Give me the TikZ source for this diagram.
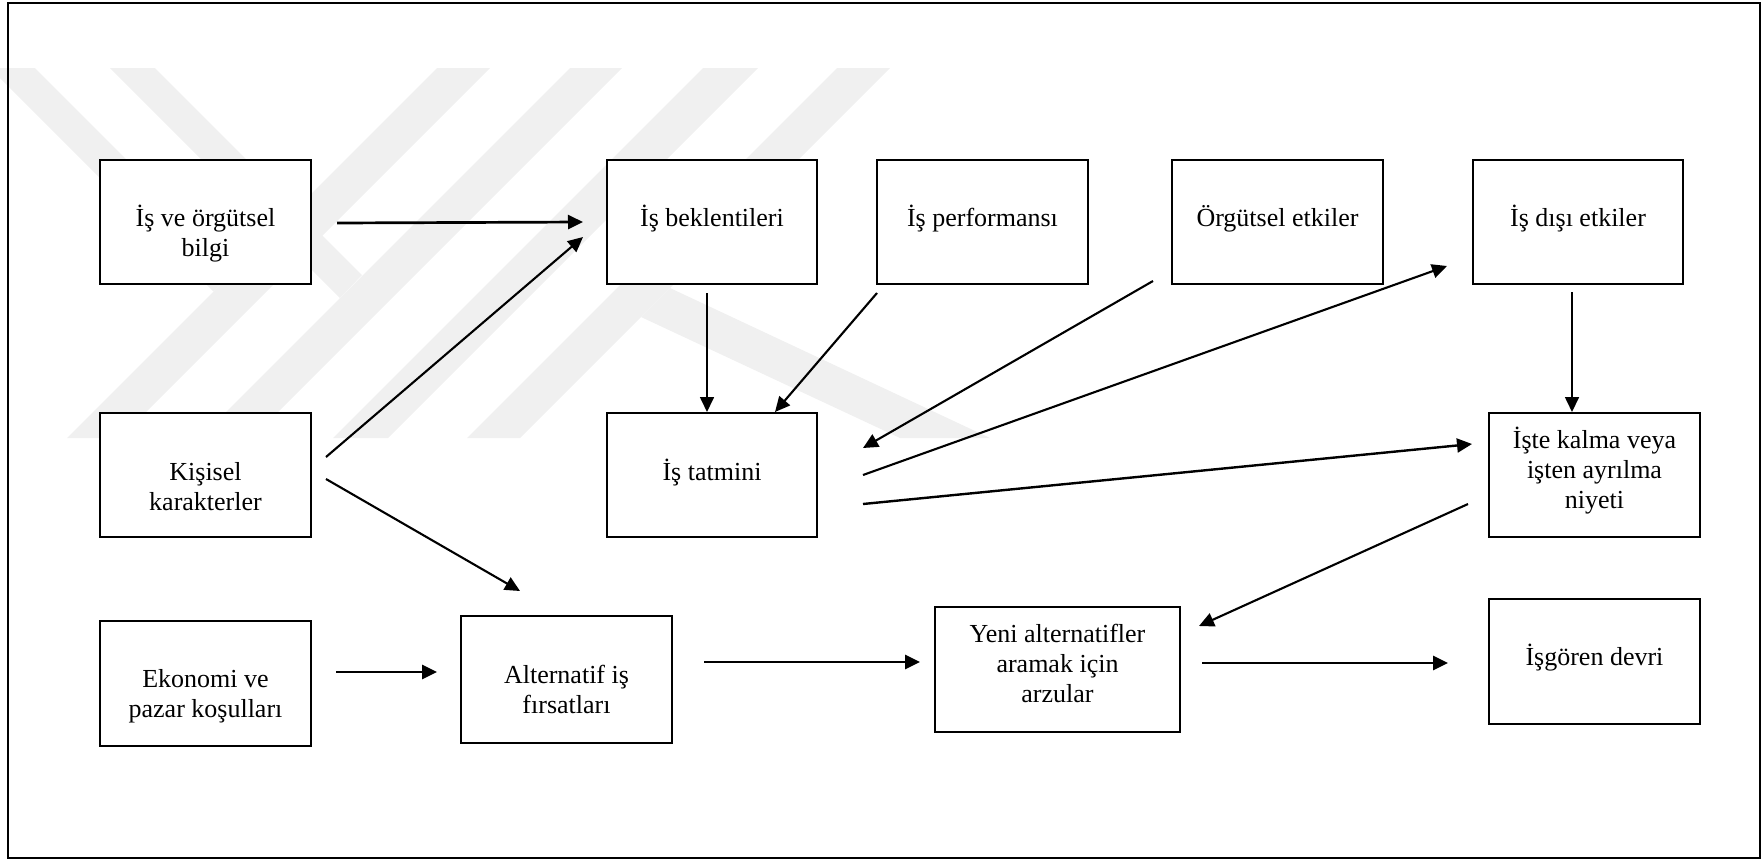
\documentclass[tikz,border=0pt]{standalone}
\usepackage{fontspec}
\setmainfont{Liberation Serif}
\usetikzlibrary{arrows.meta,calc}
% centred multi-line label whose reference point is the first baseline
\newcommand\mlines[1]{\begin{tabular}[t]{@{}c@{}}#1\end{tabular}}
\begin{document}
\begin{tikzpicture}[x=1pt,y=-1pt,
  wm/.style={fill=black!6},
  box/.style={draw, line width=1.7pt, fill=white, inner sep=0pt, outer sep=0pt},
  lbl/.style={anchor=base, inner sep=0pt, font=\fontsize{26}{30}\selectfont},
  arr/.style={-{Triangle[length=15pt,width=14pt]}, line width=2.1pt},
  arrthin/.style={arr, line width=1.7pt},
  arrthick/.style={arr, line width=2.7pt}]
\useasboundingbox (0,0) rectangle (1762,860);

% background stripes
\begin{scope}
  \clip (0,68) rectangle (1762,438);
  \fill[wm] (-10,68) -- (35,68) -- (236,269) -- (213.5,291.5) -- cycle;
  \fill[wm] (110,68) -- (155,68) -- (362,275) -- (340,298) -- cycle;
  \fill[wm] (437,68) -- (490,68) -- (120,438) -- (67,438) -- cycle;
  \fill[wm] (570,68) -- (622,68) -- (252,438) -- (200,438) -- cycle;
  \fill[wm] (703,68) -- (758,68) -- (388,438) -- (333,438) -- cycle;
  \fill[wm] (837,68) -- (890,68) -- (520,438) -- (467,438) -- cycle;
  \fill[wm] (670,288) -- (990,438) -- (900,438) -- (641,317) -- cycle;
\end{scope}

% outer frame
\draw[line width=1.6pt] (8,3) rectangle (1760,858);

% boxes
\node[box, minimum width=211, minimum height=124] (bilgi) at (205.5,222) {};
\node[box, minimum width=210, minimum height=124] (bekl)  at (712,222) {};
\node[box, minimum width=211, minimum height=124] (perf)  at (982.5,222) {};
\node[box, minimum width=211, minimum height=124] (org)   at (1277.5,222) {};
\node[box, minimum width=210, minimum height=124] (disi)  at (1578,222) {};
\node[box, minimum width=211, minimum height=124] (kis)   at (205.5,475) {};
\node[box, minimum width=210, minimum height=124] (tat)   at (712,475) {};
\node[box, minimum width=211, minimum height=124] (kalma) at (1594.5,475) {};
\node[box, minimum width=211, minimum height=125] (eko)   at (205.5,683.5) {};
\node[box, minimum width=211, minimum height=127] (alt)   at (566.5,679.5) {};
\node[box, minimum width=245, minimum height=125] (yeni)  at (1057.5,669.5) {};
\node[box, minimum width=211, minimum height=125] (isg)   at (1594.5,661.5) {};

% labels
\node[lbl] (bilgi-t) at (205.5,226) {\mlines{İş ve örgütsel\\bilgi}};
\node[lbl] (bekl-t)  at (712,226)   {İş beklentileri};
\node[lbl] (perf-t)  at (982.5,226) {İş performansı};
\node[lbl] (org-t)   at (1277.5,226) {Örgütsel etkiler};
\node[lbl] (disi-t)  at (1578,226)  {İş dışı etkiler};
\node[lbl] (kis-t)   at (205.5,480) {\mlines{Kişisel\\karakterler}};
\node[lbl] (tat-t)   at (712,480)   {İş tatmini};
\node[lbl] (kalma-t) at (1594.5,448) {\mlines{İşte kalma veya\\işten ayrılma\\niyeti}};
\node[lbl] (eko-t)   at (205.5,687) {\mlines{Ekonomi ve\\pazar koşulları}};
\node[lbl] (alt-t)   at (566.5,683) {\mlines{Alternatif iş\\fırsatları}};
\node[lbl] (yeni-t)  at (1057.5,642) {\mlines{Yeni alternatifler\\aramak için\\arzular}};
\node[lbl] (isg-t)   at (1594.5,665) {İşgören devri};

% connectors
\draw[arrthick] ($(bilgi.east)+(26,1)$) -- ($(bekl.west)+(-24,0)$);
\draw[arr] ($(kis.east)+(15,-18)$) -- ($(bekl.west)+(-24,15)$);
\draw[arr] ($(kis.east)+(15,4)$) -- ($(alt.north)+(-46.5,-25)$);
\draw[arrthick] ($(eko.east)+(25,-11.5)$) -- ($(alt.west)+(-24,-7.5)$);
\draw[arrthick] ($(alt.east)+(32,-17.5)$) -- ($(yeni.west)+(-15,-7.5)$);
\draw[arrthick] ($(yeni.east)+(22,-6.5)$) -- ($(isg.west)+(-41,1.5)$);
\draw[arrthin] ($(bekl.south)+(-5,9)$) -- ($(tat.north)+(-5,-1)$);
\draw[arr] ($(perf.south west)+(0,9)$) -- ($(tat.north)+(63,-1)$);
\draw[arr] ($(org.south west)+(-19,-3)$) -- ($(tat.east)+(46,-27)$);
\draw[arr] ($(tat.east)+(46,0)$) -- ($(disi.south west)+(-26,-18)$);
\draw[arr, line width=2.4pt] ($(tat.east)+(46,29)$) -- ($(kalma.west)+(-17,-31)$);
\draw[arrthin] ($(disi.south)+(-6,8)$) -- ($(kalma.north)+(-22.5,-1)$);
\draw[arr] ($(kalma.west)+(-21,29)$) -- ($(yeni.north east)+(19,19)$);
\end{tikzpicture}
\end{document}
